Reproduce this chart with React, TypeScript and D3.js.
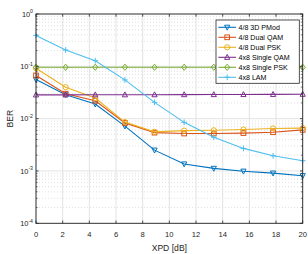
import * as d3 from 'd3';

// XPD sweep (dB) and BER per scheme
const xpd = [0, 2.222, 4.444, 6.667, 8.889, 11.111, 13.333, 15.556, 17.778, 20];
const pmod3d = [0.056, 0.0285, 0.019, 0.0072, 0.0025, 0.00136, 0.00112, 0.00099, 0.00091, 0.00081];
const dualQam = [0.067, 0.03, 0.022, 0.0083, 0.0054, 0.0052, 0.0052, 0.0053, 0.0055, 0.0061];
const dualPsk = [0.092, 0.04, 0.0248, 0.0086, 0.0056, 0.0059, 0.006, 0.0062, 0.0065, 0.0066];
const singleQam = [0.0285, 0.0285, 0.0286, 0.0286, 0.0287, 0.0288, 0.0289, 0.029, 0.0291, 0.0293];
const singlePsk = [0.096, 0.096, 0.096, 0.096, 0.096, 0.096, 0.096, 0.096, 0.096, 0.096];
const lam = [0.39, 0.205, 0.128, 0.055, 0.0205, 0.0085, 0.0044, 0.0027, 0.00195, 0.00157];

const seriesNames = ['4/8 3D PMod', '4/8 Dual QAM', '4/8 Dual PSK', '4x8 Single QAM', '4x8 Single PSK', '4x8 LAM'];
const xTicks = [0, 2, 4, 6, 8, 10, 12, 14, 16, 18, 20];
const yExponents = [0, -1, -2, -3, -4];

const colors = ['#0072BD', '#D95319', '#EDB120', '#7E2F8E', '#77AC30', '#4DBEEE'];
const markers = ['triDown', 'square', 'circle', 'triUp', 'diamond', 'plus'];

const font = '"Liberation Sans", Arial, sans-serif';
const axisColor = '#262626';

// plot area
const L = 36, R = 302.7, T = 14, B = 223.3;

function Marker({ type, x, y, color }: { type: string; x: number; y: number; color: string }) {
  const s = 2.6;
  const common = { fill: 'none', stroke: color, strokeWidth: 1 };
  switch (type) {
    case 'triDown':
      return <path d={`M${x - s},${y - s * 0.8}L${x + s},${y - s * 0.8}L${x},${y + s * 1.1}Z`} {...common} />;
    case 'triUp':
      return <path d={`M${x - s},${y + s * 0.8}L${x + s},${y + s * 0.8}L${x},${y - s * 1.1}Z`} {...common} />;
    case 'square':
      return <rect x={x - s * 0.9} y={y - s * 0.9} width={s * 1.8} height={s * 1.8} {...common} />;
    case 'circle':
      return <circle cx={x} cy={y} r={s} {...common} />;
    case 'diamond':
      return <path d={`M${x},${y - s * 1.2}L${x + s},${y}L${x},${y + s * 1.2}L${x - s},${y}Z`} {...common} />;
    default:
      return <path d={`M${x - s * 1.1},${y}L${x + s * 1.1},${y}M${x},${y - s * 1.1}L${x},${y + s * 1.1}`} {...common} />;
  }
}

export default function App() {
  const x = d3.scaleLinear().domain([0, 20]).range([L, R]);
  const y = d3.scaleLog().domain([1e-4, 1]).range([B, T]);

  const data = [pmod3d, dualQam, dualPsk, singleQam, singlePsk, lam];
  const line = d3.line<number>().x((_, i) => x(xpd[i])).y(d => y(d));

  // minor log values
  const minor: number[] = [];
  for (let e = -4; e < 0; e++) for (let m = 2; m <= 9; m++) minor.push(m * Math.pow(10, e));

  const legX = 216, legY = 20, legW = 83.3, legH = 63.3;

  return (
    <svg width={308} height={254} style={{ position: 'absolute', left: 0, top: 0, background: '#fff' }} fontFamily={font}>
      {/* grid */}
      {minor.map((v, i) => (
        <line key={'mg' + i} x1={L} x2={R} y1={y(v)} y2={y(v)} stroke="#d9d9d9" strokeWidth={0.8} strokeDasharray="1,2" />
      ))}
      {yExponents.map(e => (
        <line key={'yg' + e} x1={L} x2={R} y1={y(Math.pow(10, e))} y2={y(Math.pow(10, e))} stroke="#e3e3e3" strokeWidth={1} />
      ))}
      {xTicks.map(t => (
        <line key={'xg' + t} x1={x(t)} x2={x(t)} y1={T} y2={B} stroke="#e3e3e3" strokeWidth={1} />
      ))}

      {/* series */}
      {data.map((d, si) => (
        <g key={'s' + si}>
          <path d={line(d) || ''} fill="none" stroke={colors[si]} strokeWidth={1.1} />
          {d.map((v, i) => (
            <Marker key={i} type={markers[si]} x={x(xpd[i])} y={y(v)} color={colors[si]} />
          ))}
        </g>
      ))}

      {/* axes box + ticks */}
      <rect x={L} y={T} width={R - L} height={B - T} fill="none" stroke={axisColor} strokeWidth={0.9} />
      {xTicks.map(t => (
        <g key={'xt' + t}>
          <line x1={x(t)} x2={x(t)} y1={B} y2={B - 2.7} stroke={axisColor} strokeWidth={0.8} />
          <line x1={x(t)} x2={x(t)} y1={T} y2={T + 2.7} stroke={axisColor} strokeWidth={0.8} />
          <text x={x(t)} y={B + 13.3} textAnchor="middle" fontSize={7.6} fill={axisColor}>{t}</text>
        </g>
      ))}
      {minor.map((v, i) => (
        <g key={'mt' + i}>
          <line x1={L} x2={L + 1.5} y1={y(v)} y2={y(v)} stroke={axisColor} strokeWidth={0.7} />
          <line x1={R} x2={R - 1.5} y1={y(v)} y2={y(v)} stroke={axisColor} strokeWidth={0.7} />
        </g>
      ))}
      {yExponents.map(e => (
        <g key={'yt' + e}>
          <line x1={L} x2={L + 2.7} y1={y(Math.pow(10, e))} y2={y(Math.pow(10, e))} stroke={axisColor} strokeWidth={0.8} />
          <line x1={R} x2={R - 2.7} y1={y(Math.pow(10, e))} y2={y(Math.pow(10, e))} stroke={axisColor} strokeWidth={0.8} />
          <text x={L - 3} y={y(Math.pow(10, e)) + 2.7} textAnchor="end" fontSize={7.4} fill={axisColor}>
            10<tspan dy={-3.3} fontSize={5.2}>{e}</tspan>
          </text>
        </g>
      ))}

      {/* axis labels */}
      <text x={(L + R) / 2} y={250.5} textAnchor="middle" fontSize={8.6} fill={axisColor}>XPD [dB]</text>
      <text transform={`translate(13,${(T + B) / 2}) rotate(-90)`} textAnchor="middle" fontSize={8.6} fill={axisColor}>BER</text>

      {/* legend */}
      <rect x={legX} y={legY} width={legW} height={legH} fill="#fff" stroke={axisColor} strokeWidth={0.8} />
      {seriesNames.map((n, i) => {
        const ly = legY + 7.3 + i * 10;
        return (
          <g key={'lg' + i}>
            <line x1={legX + 2.3} x2={legX + 20} y1={ly} y2={ly} stroke={colors[i]} strokeWidth={1.1} />
            <Marker type={markers[i]} x={legX + 11.2} y={ly} color={colors[i]} />
            <text x={legX + 22.5} y={ly + 2.5} fontSize={7.1} fill="#000">{n}</text>
          </g>
        );
      })}
    </svg>
  );
}
